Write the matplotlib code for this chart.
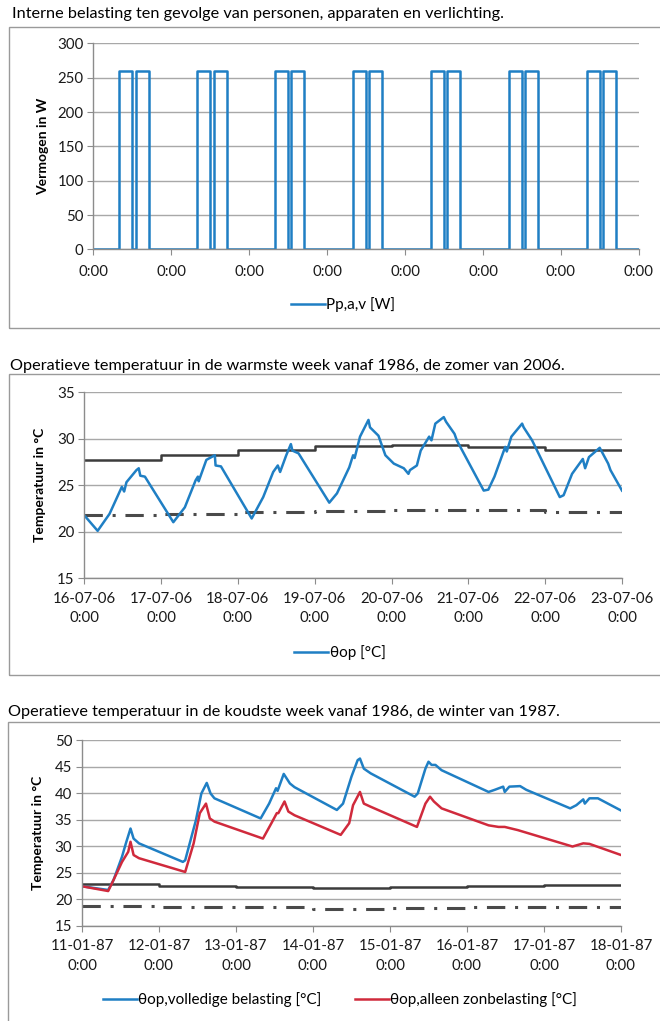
import numpy as np
import matplotlib
matplotlib.use("Agg")
import matplotlib.pyplot as plt
from matplotlib.patches import Rectangle
from matplotlib.lines import Line2D

plt.rcParams['font.family'] = ['Lato', 'DejaVu Sans']

# ---------------- data ----------------
# Panel 1: hourly internal load profile (W), same every day
load_profile = [0, 0, 0, 0, 0, 0, 0, 0,
                260, 260, 260, 260,
                0,
                260, 260, 260, 260,
                0, 0, 0, 0, 0, 0, 0]
n_days = 7
load_xlabels = ["0:00"] * 8

# Panel 2: summer week
summer_dates = ["16-07-06", "17-07-06", "18-07-06", "19-07-06",
                "20-07-06", "21-07-06", "22-07-06", "23-07-06"]
summer_t = [0, 0.175, 0.33, 0.49, 0.52, 0.55, 0.68, 0.71, 0.73, 0.79,
            1.16, 1.31, 1.45, 1.48, 1.49, 1.59, 1.70, 1.71, 1.78,
            2.18, 2.33, 2.46, 2.52, 2.55, 2.63, 2.69, 2.71, 2.79,
            3.19, 3.29, 3.45, 3.50, 3.52, 3.59, 3.70, 3.72, 3.83, 3.92,
            4.03, 4.16, 4.22, 4.24, 4.33, 4.38, 4.49, 4.52, 4.57, 4.68, 4.71, 4.82, 4.85,
            5.20, 5.26, 5.34, 5.48, 5.50, 5.56, 5.70, 5.72, 5.83,
            6.19, 6.24, 6.35, 6.49, 6.52, 6.57, 6.71, 6.82, 6.85, 7.0]
summer_top = [21.75, 20.07, 21.9, 24.8, 24.3, 25.3, 26.6, 26.8, 26.0, 25.9,
              21.0, 22.6, 25.5, 25.9, 25.4, 27.7, 28.2, 27.1, 27.0,
              21.4, 23.7, 26.4, 27.1, 26.4, 28.2, 29.4, 28.7, 28.4,
              23.1, 24.1, 26.9, 28.2, 27.9, 30.2, 32.0, 31.2, 30.3, 28.2,
              27.3, 26.8, 26.2, 26.6, 27.1, 28.7, 30.2, 29.8, 31.6, 32.3, 31.8, 30.5, 29.8,
              24.4, 24.5, 25.9, 29.1, 28.6, 30.2, 31.6, 31.2, 29.8,
              23.7, 23.9, 26.2, 27.8, 26.8, 28.0, 29.0, 27.3, 26.6, 24.4]
summer_upper = [27.7, 28.25, 28.75, 29.15, 29.3, 29.1, 28.75]
summer_lower = [21.75, 21.9, 22.1, 22.2, 22.3, 22.3, 22.1]

# Panel 3: winter week
winter_dates = ["11-01-87", "12-01-87", "13-01-87", "14-01-87",
                "15-01-87", "16-01-87", "17-01-87", "18-01-87"]
winter_t_full = [0, 0.34, 0.41, 0.52, 0.57, 0.63, 0.67, 0.74,
                 1.31, 1.34, 1.48, 1.55, 1.62, 1.67, 1.72,
                 2.32, 2.43, 2.52, 2.54, 2.62, 2.70, 2.76,
                 3.31, 3.39, 3.50, 3.58, 3.61, 3.66, 3.75,
                 4.32, 4.36, 4.46, 4.50, 4.54, 4.59, 4.67,
                 5.28, 5.36, 5.47, 5.49, 5.55, 5.69, 5.77,
                 6.34, 6.42, 6.51, 6.53, 6.59, 6.70, 7.0]
winter_full = [22.4, 21.7, 23.6, 28.0, 30.5, 33.3, 31.4, 30.5,
               27.0, 27.3, 34.9, 39.9, 41.9, 39.9, 39.0,
               35.2, 38.0, 40.9, 40.4, 43.6, 41.8, 41.1,
               36.8, 38.0, 43.1, 46.2, 46.5, 44.6, 43.7,
               39.3, 39.9, 44.6, 45.9, 45.3, 45.3, 44.3,
               40.2, 40.6, 41.2, 40.2, 41.2, 41.3, 40.6,
               37.1, 37.7, 38.8, 38.0, 39.0, 39.0, 36.7]
winter_t_sun = [0, 0.34, 0.41, 0.52, 0.60, 0.63, 0.67, 0.74,
                1.34, 1.45, 1.53, 1.61, 1.66, 1.72,
                2.35, 2.46, 2.53, 2.55, 2.63, 2.68, 2.76,
                3.36, 3.47, 3.52, 3.61, 3.66, 3.75,
                4.35, 4.46, 4.52, 4.57, 4.67,
                5.28, 5.41, 5.49, 5.66,
                6.37, 6.51, 6.59, 7.0]
winter_sun = [22.4, 21.5, 23.6, 27.0, 28.9, 30.8, 28.3, 27.7,
              25.1, 30.5, 36.2, 38.0, 35.2, 34.6,
              31.4, 34.3, 36.2, 36.2, 38.4, 36.5, 35.8,
              32.1, 34.3, 37.7, 40.2, 38.0, 37.4,
              33.6, 38.0, 39.3, 38.4, 37.1,
              33.9, 33.6, 33.6, 33.0,
              29.9, 30.5, 30.4, 28.3]
winter_upper = [22.75, 22.4, 22.3, 22.1, 22.2, 22.4, 22.55]
winter_lower = [18.65, 18.4, 18.4, 18.2, 18.3, 18.5, 18.5]

# ---------------- styling ----------------
BLUE = "#1f7fc4"
RED = "#d02a3c"
DARK = "#3c3c3c"
GRID = "#a8a8a8"
AXC = "#8c8c8c"
W, H = 660, 1021
TICKFS = 10.8
LEGFS = 11
TITLEFS = 11.7
YLFS = 10

fig = plt.figure(figsize=(W / 100, H / 100), dpi=100)


def fx(px):
    return px / W


def fy(py):
    return 1 - py / H


def add_axes(left, right, top, bottom):
    return fig.add_axes([fx(left), fy(bottom), fx(right - left), (bottom - top) / H])


def style(ax):
    for s in ["top", "right"]:
        ax.spines[s].set_visible(False)
    for s in ["left", "bottom"]:
        ax.spines[s].set_color(AXC)
        ax.spines[s].set_linewidth(1.0)
    ax.grid(axis="y", color=GRID, lw=1.0)
    ax.set_axisbelow(True)
    ax.tick_params(axis="both", direction="out", length=4, color=AXC,
                   labelsize=TICKFS, labelcolor="#1a1a1a", pad=3)


def box(left, top, bottom):
    fig.patches.append(Rectangle((fx(left), fy(bottom)), 1.2, (bottom - top) / H,
                                 transform=fig.transFigure, fill=False,
                                 edgecolor="#9a9a9a", lw=1.0))


def step_daily(vals):
    t = np.arange(len(vals) + 1)
    v = list(vals) + [vals[-1]]
    return t, v


DASHDOT = (6, 3.2, 1, 3.2)

# ---------- Panel 1 ----------
fig.text(fx(12), fy(14), "Interne belasting ten gevolge van personen, apparaten en verlichting.",
         fontsize=TITLEFS, va="center", ha="left")
box(9, 27, 328)
ax1 = add_axes(93.4, 638.9, 43.5, 249.5)
style(ax1)
load = np.tile(load_profile, n_days)
load = np.append(load, 0)
t_load = np.arange(len(load)) / 24.0
ax1.plot(t_load, load, color=BLUE, lw=1.8, drawstyle="steps-post")
ax1.set_xlim(0, n_days)
ax1.set_ylim(0, 300)
ax1.set_yticks(range(0, 301, 50))
ax1.set_xticks(range(n_days + 1))
ax1.set_xticklabels(load_xlabels)
ax1.tick_params(axis="x", pad=7)
ax1.set_ylabel("Vermogen in W", fontsize=YLFS, fontweight="bold", labelpad=6)
ax1.legend([Line2D([], [], color=BLUE, lw=1.8)], ["Pp,a,v [W]"],
           loc="center", bbox_to_anchor=(fx(343), fy(305)), bbox_transform=fig.transFigure,
           frameon=False, fontsize=LEGFS, handlelength=2.2, handletextpad=0.1)

# ---------- Panel 2 ----------
fig.text(fx(10), fy(366), "Operatieve temperatuur in de warmste week vanaf 1986, de zomer van 2006.",
         fontsize=TITLEFS, va="center", ha="left")
box(8.5, 374, 675)
ax2 = add_axes(84.2, 622, 392, 578)
style(ax2)
tu, vu = step_daily(summer_upper)
ax2.plot(tu, vu, color=DARK, lw=1.8, drawstyle="steps-post")
tl, vl = step_daily(summer_lower)
ax2.plot(tl, vl, color="#4a4a4a", lw=2.2, drawstyle="steps-post", dashes=DASHDOT)
ax2.plot(summer_t, summer_top, color=BLUE, lw=1.8)
ax2.set_xlim(0, 7)
ax2.set_ylim(15, 35)
ax2.set_yticks(range(15, 36, 5))
ax2.set_xticks(range(8))
ax2.set_xticklabels([d + "\n0:00" for d in summer_dates], linespacing=1.5)
ax2.tick_params(axis="x", pad=6)
ax2.set_ylabel("Temperatuur in °C", fontsize=YLFS, fontweight="bold", labelpad=8)
ax2.legend([Line2D([], [], color=BLUE, lw=1.8)], ["θop [°C]"],
           loc="center", bbox_to_anchor=(fx(340), fy(653)), bbox_transform=fig.transFigure,
           frameon=False, fontsize=LEGFS, handlelength=2.2, handletextpad=0.1)

# ---------- Panel 3 ----------
fig.text(fx(8), fy(712), "Operatieve temperatuur in de koudste week vanaf 1986, de winter van 1987.",
         fontsize=TITLEFS, va="center", ha="left")
box(7.5, 722, 1040)
ax3 = add_axes(82, 621, 740, 925.5)
style(ax3)
tu, vu = step_daily(winter_upper)
ax3.plot(tu, vu, color=DARK, lw=1.8, drawstyle="steps-post")
tl, vl = step_daily(winter_lower)
ax3.plot(tl, vl, color="#4a4a4a", lw=2.2, drawstyle="steps-post", dashes=DASHDOT)
ax3.plot(winter_t_full, winter_full, color=BLUE, lw=1.8)
ax3.plot(winter_t_sun, winter_sun, color=RED, lw=1.8)
ax3.set_xlim(0, 7)
ax3.set_ylim(15, 50)
ax3.set_yticks(range(15, 51, 5))
ax3.set_xticks(range(8))
ax3.set_xticklabels([d + "\n0:00" for d in winter_dates], linespacing=1.5)
ax3.tick_params(axis="x", pad=6)
ax3.set_ylabel("Temperatuur in °C", fontsize=YLFS, fontweight="bold", labelpad=8)
ax3.legend([Line2D([], [], color=BLUE, lw=1.8), Line2D([], [], color=RED, lw=1.8)],
           ["θop,volledige belasting [°C]", "θop,alleen zonbelasting [°C]"],
           loc="center", bbox_to_anchor=(fx(340), fy(1000)), bbox_transform=fig.transFigure,
           frameon=False, fontsize=LEGFS, handlelength=2.2, handletextpad=0.1, ncol=2,
           columnspacing=2.2)

fig.savefig("out.png", dpi=100)
